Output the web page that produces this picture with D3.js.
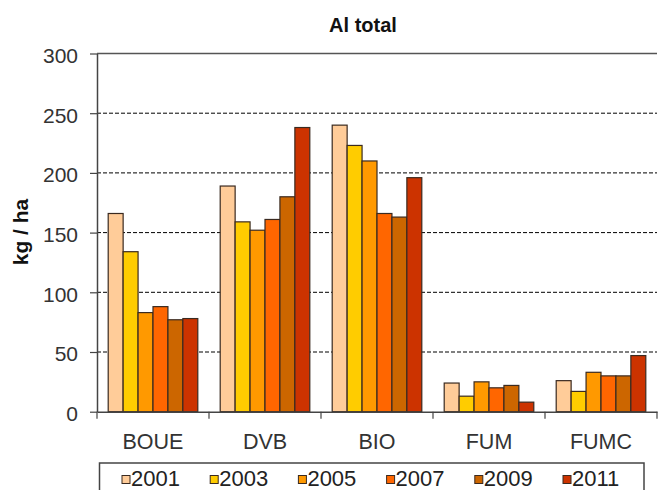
<!DOCTYPE html>
<html>
<head>
<meta charset="utf-8">
<script src="https://cdn.jsdelivr.net/npm/d3@7"></script>
<style>
  html, body { margin: 0; padding: 0; background: #fff; }
  svg { display: block; font-family: "Liberation Sans", Arial, sans-serif; }
</style>
</head>
<body>
<svg id="chart" width="658" height="490"></svg>
<script>
// Aluminium totals (kg / ha) per plot type and sampling year
const categories = ["BOUE", "DVB", "BIO", "FUM", "FUMC"];
const years = ["2001", "2003", "2005", "2007", "2009", "2011"];
const values2001 = [166, 189, 240, 24, 26];
const values2003 = [134, 159, 223, 13, 17];
const values2005 = [83, 152, 210, 25, 33];
const values2007 = [88, 161, 166, 20, 30];
const values2009 = [77, 180, 163, 22, 30];
const values2011 = [78, 238, 196, 8, 47];
const yTicks = [0, 50, 100, 150, 200, 250, 300];
const colors = ["#FFCC99", "#FFCC00", "#FF9900", "#FF6600", "#CC6600", "#CC3300"];

const series = [values2001, values2003, values2005, values2007, values2009, values2011];

const svg = d3.select("#chart");
const plot = { left: 97, right: 657, top: 53.5, bottom: 411.7 };

const x = d3.scaleBand().domain(categories).range([plot.left, plot.right]).padding(0);
const bw = x.bandwidth();
const xInner = d3.scaleBand().domain(years).range([bw * 0.1, bw * 0.9]).padding(0);
const y = d3.scaleLinear().domain([0, 300]).range([plot.bottom, plot.top]);

// Dashed gridlines (top one solid, acting as frame)
svg.append("g")
  .selectAll("line")
  .data(yTicks.filter(t => t > 0))
  .join("line")
  .attr("x1", plot.left).attr("x2", plot.right)
  .attr("y1", d => y(d)).attr("y2", d => y(d))
  .attr("stroke", d => d === 300 ? "#555" : "#000")
  .attr("stroke-width", d => d === 300 ? 1.5 : 1)
  .attr("stroke-dasharray", d => d === 300 ? null : "4,2");

// Bars
const groups = svg.append("g")
  .selectAll("g")
  .data(categories)
  .join("g")
  .attr("transform", c => `translate(${x(c)},0)`);

groups.selectAll("rect")
  .data((c, i) => years.map((yr, k) => ({ yr, k, v: series[k][i] })))
  .join("rect")
  .attr("x", d => xInner(d.yr))
  .attr("width", xInner.bandwidth())
  .attr("y", d => y(d.v))
  .attr("height", d => y(0) - y(d.v))
  .attr("fill", d => colors[d.k])
  .attr("stroke", "#3a2a20")
  .attr("stroke-width", 1.2);

// Y axis
const yAxis = svg.append("g")
  .attr("transform", `translate(${plot.left},0)`)
  .call(d3.axisLeft(y).tickValues(yTicks).tickSize(7).tickPadding(12).tickSizeOuter(0));
yAxis.select(".domain").attr("stroke", "#444").attr("stroke-width", 1.5);
yAxis.selectAll(".tick line").attr("stroke", "#444").attr("stroke-width", 1.2);
yAxis.selectAll(".tick text")
  .attr("font-size", 21).attr("fill", "#333")
  .attr("font-family", "Liberation Sans, Arial, sans-serif")
  .attr("dy", "0.42em");

// X axis with ticks at category boundaries
const xAxis = svg.append("g")
  .attr("transform", `translate(0,${plot.bottom})`)
  .call(d3.axisBottom(x).tickSize(0).tickPadding(22));
xAxis.select(".domain").attr("stroke", "#444").attr("stroke-width", 1.5);
xAxis.selectAll(".tick text")
  .attr("font-size", 21.5).attr("fill", "#333")
  .attr("font-family", "Liberation Sans, Arial, sans-serif");
xAxis.append("g")
  .selectAll("line")
  .data(categories.map(c => x(c)).concat([plot.right]))
  .join("line")
  .attr("x1", d => d).attr("x2", d => d)
  .attr("y1", 0).attr("y2", 7)
  .attr("stroke", "#444").attr("stroke-width", 1.2);

// Title
svg.append("text")
  .attr("x", 363).attr("y", 31.5)
  .attr("text-anchor", "middle")
  .attr("font-size", 20).attr("font-weight", "bold").attr("fill", "#111")
  .text("Al total");

// Y axis label
svg.append("text")
  .attr("transform", "translate(28,232) rotate(-90)")
  .attr("text-anchor", "middle")
  .attr("font-size", 21).attr("font-weight", "bold").attr("fill", "#111")
  .text("kg / ha");

// Legend
const legend = svg.append("g");
legend.append("rect")
  .attr("x", 99.5).attr("y", 463)
  .attr("width", 544.5).attr("height", 40)
  .attr("fill", "#fff").attr("stroke", "#444").attr("stroke-width", 1.5);

const legendX = d3.scalePoint().domain(years).range([122, 563]);
const item = legend.selectAll("g.item")
  .data(years)
  .join("g")
  .attr("class", "item")
  .attr("transform", d => `translate(${legendX(d)},0)`);
item.append("rect")
  .attr("x", 0).attr("y", 475.5)
  .attr("width", 8).attr("height", 8)
  .attr("fill", (d, i) => colors[i])
  .attr("stroke", "#3a2a20").attr("stroke-width", 1);
item.append("text")
  .attr("x", 9).attr("y", 486)
  .attr("font-size", 22).attr("fill", "#222")
  .text(d => d);
</script>
</body>
</html>
